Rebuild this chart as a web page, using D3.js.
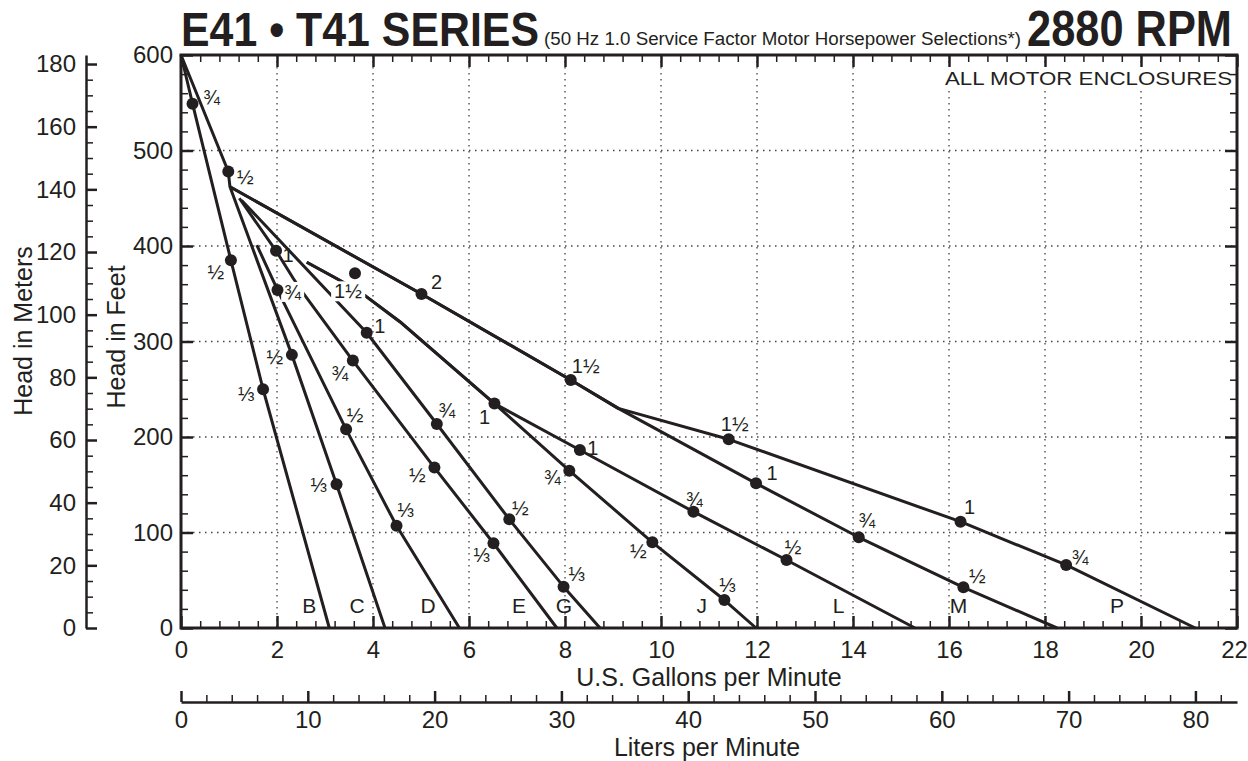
<!DOCTYPE html>
<html>
<head>
<meta charset="utf-8">
<style>
    body { margin: 0; background: #fff; }
    svg {
        display: block;
        font-family: "Liberation Sans", Arial, Helvetica, "DejaVu Sans", sans-serif;
    }
    .grid line {
        stroke: #444;
        stroke-width: 1.3px;
        stroke-dasharray: 1.5, 4.5;
    }
    .axis .domain { display: none; }
    .axis line { stroke: #231f20; }
    .axis.major line { stroke-width: 2.5px; }
    .axis.minor line { stroke-width: 1.5px; }
    .axis text {
        font-family: "Liberation Sans", Arial, Helvetica, sans-serif;
        font-size: 24px;
        fill: #231f20;
    }
    .scale .domain { display: inline; stroke: #231f20; stroke-width: 2.5px; }
    .curve { fill: none; stroke: #231f20; stroke-width: 3px; stroke-linejoin: round; }
    .hp { font-size: 20px; fill: #231f20; text-anchor: middle; }
    .letter { font-size: 21px; fill: #231f20; text-anchor: middle; }
    .title-axis { font-size: 25px; fill: #231f20; text-anchor: middle; }
    .headline { font-weight: bold; fill: #231f20; }
</style>
</head>
<body>
<svg width="1248" height="761"></svg>

<script src="https://cdn.jsdelivr.net/npm/d3@7"></script>
<script>
    // pump curves, points are [US gallons per minute, head in feet]
    let curveB = [[0, 600], [0.24, 549], [1.04, 385], [1.71, 250], [3.09, 0]]
    let curveC = [[0, 600], [0.985, 478], [1.02, 462], [2.31, 286], [3.24, 150.5], [4.25, 0]]
    let curveD = [[1.58, 401], [2.01, 354], [3.44, 208], [4.49, 107], [5.80, 0]]
    let curveE = [[1.215, 450], [1.98, 395], [2.34, 366], [2.55, 350.5], [3.58, 280], [5.28, 168], [6.51, 88.7], [7.83, 0]]
    let curveG = [[1.26, 448], [3.869, 309.2], [5.33, 213.6], [6.84, 113.8], [7.97, 43.3], [8.73, 0]]
    let curveJ = [[2.62, 383], [3.24, 366], [3.73, 352], [4.56, 320.7], [6.53, 235], [8.09, 164.7], [9.82, 89.7], [11.32, 29.3], [11.98, 0]]
    let curveL = [[2.62, 383], [3.24, 366], [3.73, 352], [4.56, 320.7], [6.53, 235], [8.31, 186.4], [10.675, 121.8], [12.615, 71.2], [15.29, 0]]
    let curveM = [[1.02, 462], [5.01, 349.7], [8.12, 259.7], [9.11, 230], [11.98, 151.5], [14.12, 95], [16.30, 42.6], [18.25, 0]]
    let curveP = [[1.02, 462], [5.01, 349.7], [8.12, 259.7], [9.11, 230], [11.41, 197.6], [16.24, 111.3], [18.44, 66], [21.13, 0]]

    let curveNames = ["B", "C", "D", "E", "G", "J", "L", "M", "P"]
    let curveLabelGpm = [2.67, 3.67, 5.15, 7.04, 7.98, 10.85, 13.7, 16.2, 19.5]

    // horsepower points: [gpm, feet, hp]
    let hpPoints = [
        [0.24, 549, "¾"], [1.04, 385, "½"], [1.71, 250, "⅓"],
        [0.985, 478, "½"], [2.31, 286, "½"], [3.24, 150.5, "⅓"],
        [2.01, 354, "¾"], [3.44, 208, "½"], [4.49, 107, "⅓"],
        [1.98, 395, "1"], [3.58, 280, "¾"], [5.28, 168, "½"], [6.51, 88.7, "⅓"],
        [3.869, 309.2, "1"], [5.33, 213.6, "¾"], [6.84, 113.8, "½"], [7.97, 43.3, "⅓"],
        [3.625, 371.4, "1½"],
        [5.01, 349.7, "2"], [8.12, 259.7, "1½"],
        [6.53, 235, "1"],
        [8.31, 186.4, "1"], [10.675, 121.8, "¾"], [12.615, 71.2, "½"],
        [8.09, 164.7, "¾"], [9.82, 89.7, "½"], [11.32, 29.3, "⅓"],
        [11.98, 151.5, "1"], [14.12, 95, "¾"], [16.30, 42.6, "½"],
        [11.41, 197.6, "1½"], [16.24, 111.3, "1"], [18.44, 66, "¾"]
    ]

    // label placement next to each point [dx, dy, white box]
    let hpLabelNudge = [
        [19, -7], [-15, 12], [-17, 5],
        [17, 5], [-17, 2], [-18, 1],
        [15, 2, true], [9, -14], [9, -16],
        [12, 4], [-13, 12], [-17, 7], [-12, 12],
        [13, -7], [10, -14], [11, -11], [13, -13],
        [-7, 18, true],
        [15, -12], [15, -14],
        [-10, 13],
        [13, -2], [1, -13], [6.5, -13],
        [-17, 6], [-14, 9], [3, -15],
        [16, -10], [8, -17], [14, -11],
        [6, -15], [9, -15], [14, -8]
    ]

    let gpmTicks = d3.range(0, 23, 2)
    let feetTicks = d3.range(0, 601, 100)
    let meterTicks = d3.range(0, 181, 20)
    let literTicks = d3.range(0, 81, 10)

    let svg = d3.select("svg")

    let plotLeft = 181, plotRight = 1237, plotTop = 55, plotBottom = 628

    let x = d3.scaleLinear().domain([0, 22]).range([plotLeft, plotRight])
    let y = d3.scaleLinear().domain([0, 600]).range([plotBottom, plotTop])
    let yM = d3.scaleLinear().domain([0, 600 / 3.28084]).range([plotBottom, plotTop])
    let xL = d3.scaleLinear().domain([0, 22 * 3.78541]).range([plotLeft, plotRight])

    let notOn = (step) => (v) => Math.abs(v / step - Math.round(v / step)) > 0.001
    let gpmMinor = d3.range(0, 22.01, 0.4).filter(notOn(2))
    let feetMinor = d3.range(0, 601, 20).filter(notOn(100))
    let meterMinor = d3.range(0, 181, 5).filter(notOn(20))
    let literMinor = d3.range(0, 83, 2).filter(notOn(10))

    // dotted grid
    let grid = svg.append("g").attr("class", "grid")
    grid.selectAll(".gx")
        .data(gpmTicks.filter(d => d > 0 && d < 22))
        .join("line")
        .attr("class", "gx")
        .attr("x1", d => x(d)).attr("x2", d => x(d))
        .attr("y1", plotTop).attr("y2", plotBottom)
    grid.selectAll(".gy")
        .data(feetTicks.filter(d => d > 0 && d < 600))
        .join("line")
        .attr("class", "gy")
        .attr("x1", plotLeft).attr("x2", plotRight)
        .attr("y1", d => y(d)).attr("y2", d => y(d))

    // enclosure note with white box
    let note = svg.append("g")
    note.append("rect")
        .attr("x", 941).attr("y", 66).attr("width", 294).attr("height", 25)
        .style("fill", "#fff")
    note.append("text")
        .attr("x", 945).attr("y", 85)
        .attr("textLength", 287).attr("lengthAdjust", "spacingAndGlyphs")
        .style("font-size", "19px").style("fill", "#231f20")
        .text("ALL MOTOR ENCLOSURES")

    // curves
    let line = d3.line().x(d => x(d[0])).y(d => y(d[1]))
    let curves = [curveB, curveC, curveD, curveE, curveG, curveJ, curveL, curveM, curveP]
    svg.append("g")
        .selectAll("path")
        .data(curves)
        .join("path")
        .attr("class", "curve")
        .attr("d", d => line(d))

    // frame
    svg.append("rect")
        .attr("x", plotLeft).attr("y", plotTop)
        .attr("width", plotRight - plotLeft).attr("height", plotBottom - plotTop)
        .style("fill", "none").style("stroke", "#231f20").style("stroke-width", "3px")

    // main axes, ticks pointing inside
    function addAxis(axis, cls, transform) {
        return svg.append("g")
            .attr("class", "axis " + cls)
            .attr("transform", transform)
            .call(axis)
    }

    let xAxisG = addAxis(d3.axisBottom(x).tickValues(gpmTicks).tickSize(-12).tickPadding(13), "major", `translate(0,${plotBottom})`)
    // keep the last label inside the page
    xAxisG.selectAll(".tick text").filter(d => d == 22).attr("dx", -3)
    addAxis(d3.axisBottom(x).tickValues(gpmMinor).tickSize(-7).tickFormat(""), "minor", `translate(0,${plotBottom})`)
    addAxis(d3.axisTop(x).tickValues(gpmTicks).tickSize(-12).tickFormat(""), "major", `translate(0,${plotTop})`)
    addAxis(d3.axisTop(x).tickValues(gpmMinor).tickSize(-7).tickFormat(""), "minor", `translate(0,${plotTop})`)
    addAxis(d3.axisLeft(y).tickValues(feetTicks).tickSize(-12).tickPadding(8), "major", `translate(${plotLeft},0)`)
    addAxis(d3.axisLeft(y).tickValues(feetMinor).tickSize(-7).tickFormat(""), "minor", `translate(${plotLeft},0)`)
    addAxis(d3.axisRight(y).tickValues(feetTicks).tickSize(-12).tickFormat(""), "major", `translate(${plotRight},0)`)
    addAxis(d3.axisRight(y).tickValues(feetMinor).tickSize(-7).tickFormat(""), "minor", `translate(${plotRight},0)`)

    // meters scale on the far left
    addAxis(d3.axisLeft(yM).tickValues(meterTicks).tickSize(-11).tickSizeOuter(0).tickPadding(10), "major scale", "translate(86,0)")
    addAxis(d3.axisLeft(yM).tickValues(meterMinor).tickSize(-7).tickFormat(""), "minor", "translate(86,0)")

    // liters scale below
    addAxis(d3.axisBottom(xL).tickValues(literTicks).tickSize(-11).tickSizeOuter(0).tickPadding(9), "major scale", "translate(0,702)")
    addAxis(d3.axisBottom(xL).tickValues(literMinor).tickSize(-7).tickFormat(""), "minor", "translate(0,702)")

    // curve letters
    svg.append("g")
        .selectAll("text")
        .data(curveNames)
        .join("text")
        .attr("class", "letter")
        .attr("x", (d, i) => x(curveLabelGpm[i]))
        .attr("y", 613)
        .text(d => d)

    // horsepower labels
    let hpLabels = svg.append("g")
    hpPoints.forEach(function (p, i) {
        let nudge = hpLabelNudge[i]
        let g = hpLabels.append("g")
        let t = g.append("text")
            .attr("class", "hp")
            .attr("x", x(p[0]) + nudge[0])
            .attr("y", y(p[1]) + nudge[1])
            .attr("dy", "0.35em")
            .text(p[2])
        if (nudge[2]) {
            let b = t.node().getBBox()
            g.insert("rect", "text")
                .attr("x", b.x - 3).attr("y", b.y + 1)
                .attr("width", b.width + 6).attr("height", b.height - 2)
                .style("fill", "#fff")
        }
    })

    // dots
    svg.append("g")
        .selectAll("circle")
        .data(hpPoints)
        .join("circle")
        .attr("cx", d => x(d[0]))
        .attr("cy", d => y(d[1]))
        .attr("r", 6)
        .style("fill", "#231f20")

    // titles, bold heads stretched a little in height like the condensed original
    svg.append("text")
        .attr("class", "headline")
        .attr("transform", "translate(181,46) scale(1,1.15)")
        .attr("textLength", 358).attr("lengthAdjust", "spacingAndGlyphs")
        .style("font-size", "41.5px")
        .text("E41 • T41 SERIES")
    svg.append("text")
        .attr("x", 544).attr("y", 45)
        .attr("textLength", 477).attr("lengthAdjust", "spacingAndGlyphs")
        .style("font-size", "18px").style("fill", "#231f20")
        .text("(50 Hz 1.0 Service Factor Motor Horsepower Selections*)")
    svg.append("text")
        .attr("class", "headline")
        .attr("transform", "translate(1027,46) scale(1,1.15)")
        .attr("textLength", 205).attr("lengthAdjust", "spacingAndGlyphs")
        .style("font-size", "43px")
        .text("2880 RPM")

    svg.append("text").attr("class", "title-axis")
        .attr("x", 709).attr("y", 686)
        .text("U.S. Gallons per Minute")
    svg.append("text").attr("class", "title-axis")
        .attr("x", 707).attr("y", 756)
        .text("Liters per Minute")
    svg.append("text").attr("class", "title-axis")
        .attr("transform", "translate(125,337) rotate(-90)")
        .text("Head in Feet")
    svg.append("text").attr("class", "title-axis")
        .attr("transform", "translate(32,331) rotate(-90)")
        .text("Head in Meters")
</script>
</body>
</html>
